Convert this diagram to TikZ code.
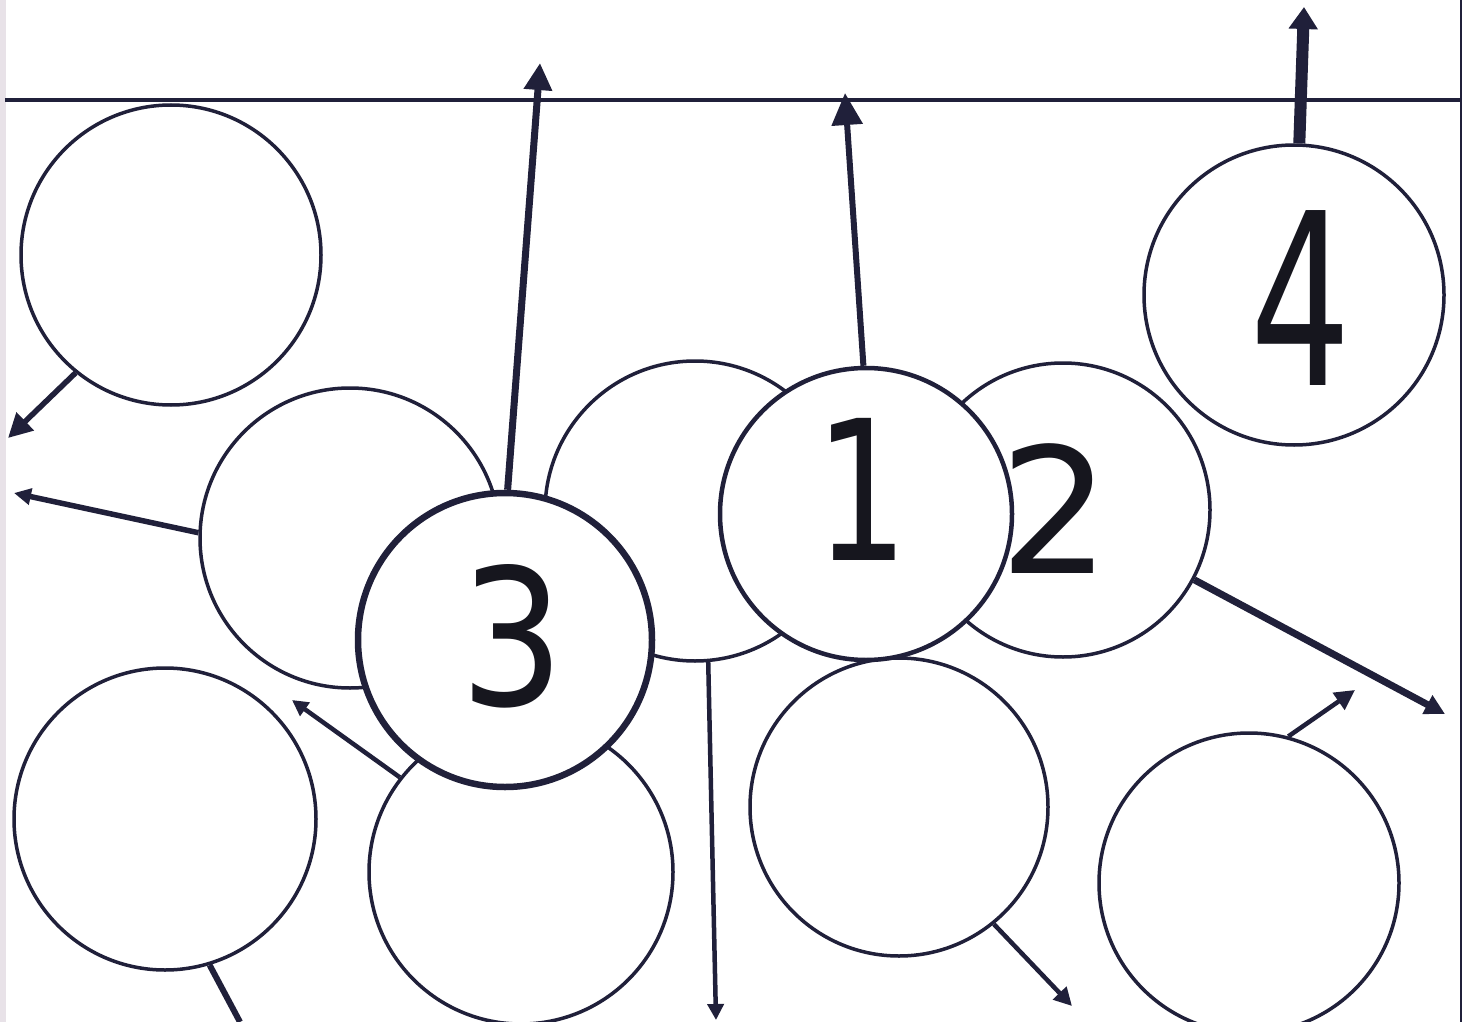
\documentclass[tikz,border=0pt]{standalone}
\usepackage{fontspec}
\newfontfamily\digitfont{DejaVu Sans}
\usetikzlibrary{arrows.meta}
\definecolor{ink}{RGB}{32,32,58}
\definecolor{digitink}{RGB}{22,22,30}
\definecolor{edgegray}{RGB}{232,226,232}
\begin{document}
\begin{tikzpicture}[x=1pt,y=-1pt,
  ring/.style={circle, draw=ink, fill=white, line width=3.5pt, minimum size=#1, inner sep=0pt},
  numlbl/.style={text=digitink, inner sep=0pt, font=\digitfont\fontsize{#1}{#1}\selectfont},
  arr/.style n args={3}{draw=ink, line width=#1, -{Triangle[length=#2, width=#3]}},
  plain/.style={draw=ink, line width=#1}]
% page
\path[fill=white] (0,0) rectangle (1462,1022);
\useasboundingbox (0,0) rectangle (1462,1022);
\fill[edgegray] (0,0) rectangle (6,1022);
\draw[ink, line width=2pt] (1460.5,0) -- (1460.5,1022);
% horizontal rule
\coordinate (ruleL) at (5,100);
\coordinate (ruleR) at (1462,100);
\draw[plain=4pt] (ruleL) -- (ruleR);
% circles, back to front
\node[ring=300pt] (tl) at (171,255) {};
\node[ring=300pt] (ml) at (350,538) {};
\node[ring=300pt] (mid) at (695,511) {};
\node[ring=294pt] (two) at (1063,510) {};
\node[ring=302pt] (bl) at (165,819) {};
\node[ring=304pt] (bm) at (521,872) {};
\node[ring=298pt] (brA) at (899,807) {};
\node[ring=300pt] (brB) at (1249,883) {};
\node[ring=300pt] (four) at (1294,295) {};
\node[ring=292pt, line width=4.5pt] (one) at (866,514) {};
\node[ring=294pt, line width=6.5pt] (three) at (505,640) {};
% labels
\node[numlbl=190pt, xscale=0.86, transform shape] (lab3) at (512,636) {3};
\node[numlbl=195pt, xscale=0.75, transform shape] (lab1) at (862,489) {1};
\node[numlbl=175pt] (lab2) at (1055,509) {2};
\node[numlbl=240pt, xscale=0.66, transform shape] (lab4) at (1301,298) {4};
% free ends of connectors
\coordinate (tA) at (8,438);
\coordinate (tB) at (14,493);
\coordinate (tC) at (540,63);
\coordinate (tD) at (845,93);
\coordinate (tE) at (1304,7);
\coordinate (tF) at (1445,714);
\coordinate (tG) at (1355,690);
\coordinate (tH) at (292,700);
\coordinate (tI) at (716,1020);
\coordinate (tJ) at (240,1022);
\coordinate (tK) at (1072,1006);
% connectors
\draw[arr={5.5pt}{24pt}{24pt}] (tl.231) -- (tA);
\draw[arr={5.5pt}{17pt}{16pt}] (ml.178) -- (tB);
\draw[arr={7pt}{27pt}{27pt}] (three.89) -- (tC);
\draw[arr={6pt}{32pt}{30pt}] (one.91) -- (tD);
\draw[arr={12pt}{22pt}{28pt}] (four.88) -- (tE);
\draw[arr={7pt}{20pt}{20pt}] (two.332) -- (tF);
\draw[arr={4.5pt}{20pt}{20pt}] (brB.75) -- (tG);
\draw[arr={4.5pt}{16pt}{16pt}] (bm.142) -- (tH);
\draw[arr={4.5pt}{16pt}{16pt}] (mid.275) -- (tI);
\draw[plain=6pt] (bl.287) -- (tJ);
\draw[arr={4.5pt}{18pt}{18pt}] (brA.309) -- (tK);
\end{tikzpicture}
\end{document}
